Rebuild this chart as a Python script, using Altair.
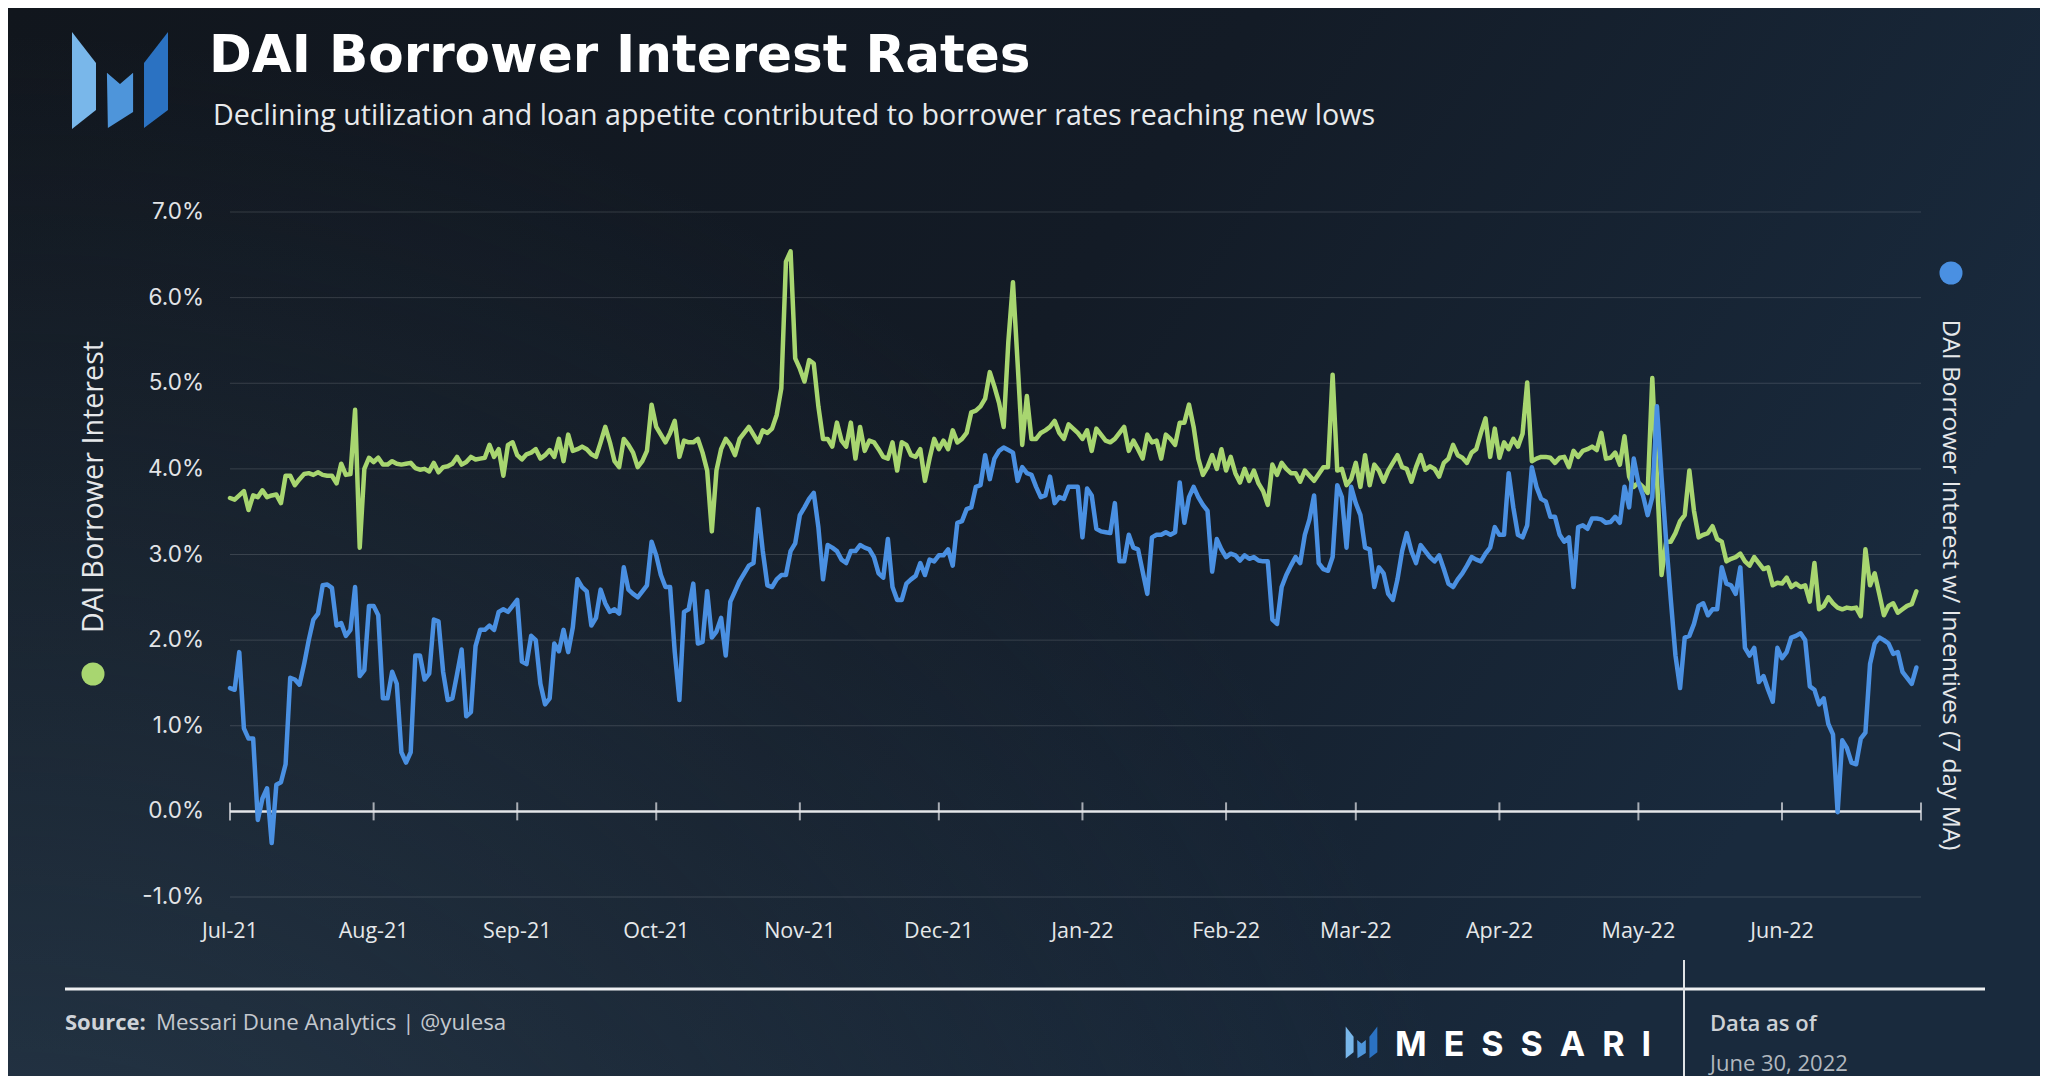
import altair as alt
import pandas as pd

TITLE = "DAI Borrower Interest Rates"
SUBTITLE = "Declining utilization and loan appetite contributed to borrower rates reaching new lows"
SERIES_NAMES = ["DAI Borrower Interest", "DAI Borrower Interest w/ Incentives (7 day MA)"]
SERIES_COLORS = ["#a8d670", "#4a90e2"]
START_DATE = "2021-07-01"
MONTH_TICKS = ["2021-07-01", "2021-08-01", "2021-09-01", "2021-10-01", "2021-11-01",
               "2021-12-01", "2022-01-01", "2022-02-01", "2022-03-01", "2022-04-01",
               "2022-05-01", "2022-06-01", "2022-07-01"]
MONTH_LABELS = ["Jul-21", "Aug-21", "Sep-21", "Oct-21", "Nov-21", "Dec-21", "Jan-22",
                "Feb-22", "Mar-22", "Apr-22", "May-22", "Jun-22", ""]
Y_TICKS = [-1, 0, 1, 2, 3, 4, 5, 6, 7]
Y_LABELS = ["-1.0%", "0.0%", "1.0%", "2.0%", "3.0%", "4.0%", "5.0%", "6.0%", "7.0%"]

# DAI Borrower Interest (%), daily from 2021-07-01
GREEN = [
    3.66, 3.64, 3.69, 3.74, 3.52, 3.69, 3.67, 3.75, 3.67, 3.69,
    3.70, 3.60, 3.92, 3.92, 3.81, 3.88, 3.94, 3.95, 3.93, 3.96,
    3.93, 3.92, 3.92, 3.83, 4.06, 3.93, 3.94, 4.69, 3.08, 4.00,
    4.13, 4.08, 4.13, 4.05, 4.05, 4.09, 4.06, 4.05, 4.06, 4.07,
    4.01, 3.99, 4.00, 3.97, 4.07, 3.96, 4.02, 4.03, 4.06, 4.14,
    4.05, 4.08, 4.14, 4.11, 4.12, 4.13, 4.28, 4.14, 4.23, 3.92,
    4.28, 4.31, 4.16, 4.11, 4.17, 4.19, 4.23, 4.12, 4.16, 4.22,
    4.14, 4.35, 4.09, 4.40, 4.21, 4.23, 4.26, 4.23, 4.17, 4.14,
    4.31, 4.49, 4.31, 4.09, 4.02, 4.35, 4.28, 4.19, 4.02, 4.09,
    4.21, 4.75, 4.49, 4.40, 4.31, 4.42, 4.56, 4.14, 4.33, 4.31,
    4.31, 4.35, 4.19, 3.98, 3.27, 3.98, 4.23, 4.35, 4.28, 4.16,
    4.35, 4.42, 4.49, 4.40, 4.31, 4.45, 4.42, 4.47, 4.63, 4.94,
    6.42, 6.54, 5.29, 5.17, 5.02, 5.27, 5.23, 4.73, 4.35, 4.35,
    4.26, 4.54, 4.33, 4.26, 4.54, 4.12, 4.49, 4.21, 4.33, 4.31,
    4.23, 4.14, 4.12, 4.31, 3.98, 4.31, 4.28, 4.16, 4.14, 4.23,
    3.86, 4.12, 4.35, 4.23, 4.33, 4.23, 4.45, 4.31, 4.35, 4.42,
    4.66, 4.68, 4.73, 4.82, 5.13, 4.96, 4.77, 4.49, 5.48, 6.18,
    5.24, 4.28, 4.85, 4.35, 4.35, 4.42, 4.45, 4.49, 4.56, 4.42,
    4.35, 4.52, 4.47, 4.42, 4.35, 4.45, 4.21, 4.47, 4.40, 4.33,
    4.31, 4.35, 4.42, 4.49, 4.21, 4.33, 4.23, 4.12, 4.40, 4.31,
    4.33, 4.12, 4.40, 4.35, 4.28, 4.54, 4.54, 4.75, 4.49, 4.12,
    3.93, 4.02, 4.16, 4.00, 4.23, 3.98, 4.14, 3.95, 3.84, 4.00,
    3.86, 3.98, 3.83, 3.74, 3.58, 4.05, 3.93, 4.07, 4.00, 3.95,
    3.95, 3.85, 3.98, 3.92, 3.86, 3.94, 4.02, 4.02, 5.10, 3.98,
    4.00, 3.81, 3.88, 4.07, 3.79, 4.16, 3.81, 4.05, 3.98, 3.85,
    3.98, 4.07, 4.16, 4.02, 4.00, 3.85, 4.02, 4.16, 3.99, 4.03,
    4.00, 3.91, 4.07, 4.12, 4.28, 4.16, 4.13, 4.07, 4.19, 4.23,
    4.42, 4.59, 4.14, 4.47, 4.13, 4.31, 4.23, 4.35, 4.26, 4.41,
    5.01, 4.09, 4.12, 4.14, 4.14, 4.13, 4.07, 4.13, 4.14, 4.02,
    4.21, 4.14, 4.21, 4.23, 4.26, 4.22, 4.42, 4.12, 4.13, 4.19,
    4.05, 4.38, 3.91, 3.79, 3.84, 3.79, 3.72, 5.06, 3.90, 2.76,
    3.15, 3.15, 3.25, 3.39, 3.46, 3.98, 3.51, 3.20, 3.23, 3.25,
    3.33, 3.18, 3.15, 2.92, 2.95, 2.97, 3.01, 2.92, 2.87, 2.97,
    2.90, 2.83, 2.85, 2.64, 2.67, 2.66, 2.73, 2.62, 2.66, 2.62,
    2.64, 2.45, 2.90, 2.36, 2.40, 2.50, 2.43, 2.38, 2.36, 2.38,
    2.37, 2.38, 2.28, 3.06, 2.64, 2.78, 2.54, 2.29, 2.40, 2.43,
    2.32, 2.36, 2.40, 2.42, 2.57,
]

# DAI Borrower Interest w/ Incentives, 7 day MA (%), daily from 2021-07-01
BLUE = [
    1.44, 1.42, 1.86, 0.97, 0.85, 0.85, -0.10, 0.15, 0.27, -0.37,
    0.31, 0.34, 0.55, 1.56, 1.54, 1.48, 1.72, 2.00, 2.24, 2.31,
    2.64, 2.65, 2.61, 2.17, 2.20, 2.05, 2.12, 2.62, 1.58, 1.65,
    2.40, 2.40, 2.29, 1.32, 1.32, 1.63, 1.49, 0.69, 0.57, 0.69,
    1.82, 1.82, 1.54, 1.61, 2.24, 2.22, 1.63, 1.30, 1.32, 1.60,
    1.89, 1.11, 1.16, 1.93, 2.12, 2.12, 2.17, 2.12, 2.33, 2.36,
    2.33, 2.40, 2.47, 1.75, 1.72, 2.05, 2.00, 1.49, 1.25, 1.32,
    1.96, 1.87, 2.12, 1.86, 2.15, 2.71, 2.62, 2.57, 2.17, 2.26,
    2.59, 2.43, 2.33, 2.36, 2.31, 2.85, 2.59, 2.54, 2.50, 2.57,
    2.64, 3.15, 2.99, 2.76, 2.62, 2.62, 1.86, 1.30, 2.33, 2.36,
    2.66, 1.96, 1.98, 2.57, 2.03, 2.10, 2.26, 1.82, 2.45, 2.57,
    2.69, 2.78, 2.87, 2.90, 3.53, 3.04, 2.64, 2.62, 2.71, 2.76,
    2.76, 3.04, 3.13, 3.46, 3.55, 3.65, 3.72, 3.32, 2.71, 3.11,
    3.08, 3.04, 2.94, 2.90, 3.04, 3.04, 3.11, 3.08, 3.06, 2.97,
    2.78, 2.73, 3.18, 2.62, 2.47, 2.47, 2.66, 2.71, 2.75, 2.90,
    2.76, 2.94, 2.92, 2.99, 2.99, 3.06, 2.87, 3.37, 3.39, 3.53,
    3.55, 3.79, 3.81, 4.16, 3.88, 4.12, 4.21, 4.25, 4.22, 4.19,
    3.86, 4.02, 3.95, 3.93, 3.79, 3.67, 3.69, 3.91, 3.60, 3.67,
    3.65, 3.79, 3.79, 3.79, 3.20, 3.77, 3.69, 3.30, 3.27, 3.26,
    3.25, 3.60, 2.92, 2.92, 3.23, 3.08, 3.06, 2.80, 2.54, 3.20,
    3.23, 3.23, 3.26, 3.23, 3.26, 3.84, 3.37, 3.67, 3.79, 3.67,
    3.58, 3.51, 2.80, 3.18, 3.06, 2.97, 3.01, 2.99, 2.93, 2.99,
    2.95, 2.97, 2.93, 2.92, 2.92, 2.24, 2.19, 2.62, 2.76, 2.87,
    2.97, 2.90, 3.23, 3.41, 3.69, 2.90, 2.83, 2.81, 2.97, 3.81,
    3.67, 3.08, 3.79, 3.60, 3.46, 3.08, 3.06, 2.62, 2.85, 2.78,
    2.54, 2.47, 2.71, 3.04, 3.25, 3.04, 2.90, 3.11, 3.04, 2.97,
    2.92, 2.99, 2.83, 2.66, 2.62, 2.71, 2.78, 2.87, 2.97, 2.94,
    2.92, 3.01, 3.08, 3.32, 3.23, 3.23, 3.95, 3.55, 3.23, 3.20,
    3.34, 4.02, 3.79, 3.65, 3.62, 3.44, 3.44, 3.23, 3.15, 3.20,
    2.62, 3.32, 3.34, 3.30, 3.42, 3.42, 3.41, 3.37, 3.38, 3.44,
    3.37, 3.79, 3.55, 4.12, 3.84, 3.69, 3.46, 3.67, 4.73, 3.90,
    3.15, 2.47, 1.82, 1.44, 2.03, 2.05, 2.19, 2.40, 2.43, 2.29,
    2.36, 2.36, 2.85, 2.66, 2.64, 2.54, 2.85, 1.91, 1.82, 1.91,
    1.51, 1.58, 1.42, 1.28, 1.91, 1.79, 1.86, 2.03, 2.05, 2.08,
    2.00, 1.46, 1.42, 1.25, 1.32, 1.02, 0.90, -0.01, 0.83, 0.74,
    0.57, 0.55, 0.85, 0.92, 1.72, 1.96, 2.03, 2.00, 1.96, 1.84,
    1.86, 1.63, 1.56, 1.49, 1.68,
]

W, H = 1691, 685
PAD = {"left": 222, "top": 204, "right": 119, "bottom": 179}


def daily_dates(values):
    return list(pd.date_range(START_DATE, periods=len(values), freq="D").strftime("%Y-%m-%d"))


df = pd.DataFrame({
    "date": daily_dates(GREEN) + daily_dates(BLUE),
    "rate": GREEN + BLUE,
    "series": [SERIES_NAMES[0]] * len(GREEN) + [SERIES_NAMES[1]] * len(BLUE),
})
months = pd.DataFrame({"m": MONTH_TICKS, "label": MONTH_LABELS})
yticks = pd.DataFrame({"tick": Y_TICKS, "label": Y_LABELS})


def dt(s):
    y, m, d = (int(p) for p in s.split("-"))
    return alt.DateTime(year=y, month=m, date=d, utc=True)


x_scale = alt.Scale(type="utc", domain=[dt(MONTH_TICKS[0]), dt(MONTH_TICKS[-1])])
y_scale = alt.Scale(domain=[Y_TICKS[0], Y_TICKS[-1]], nice=False, zero=False)
DUMMY = pd.DataFrame({"k": [0]})

# background
bg = alt.Chart(DUMMY).mark_rect(
    fill={"gradient": "linear", "x1": 0, "y1": 0, "x2": 1, "y2": 0.35,
          "stops": [{"offset": 0, "color": "#11161d"},
                    {"offset": 0.55, "color": "#131b26"},
                    {"offset": 1, "color": "#192a3d"}]}
).encode(x=alt.value(-PAD["left"]), x2=alt.value(W + PAD["right"]),
         y=alt.value(-PAD["top"]), y2=alt.value(H + PAD["bottom"]))

bg_glow = alt.Chart(DUMMY).mark_rect(
    fill={"gradient": "radial", "x1": 0.0, "y1": 1.0, "r1": 0, "x2": 0.0, "y2": 1.0, "r2": 0.75,
          "stops": [{"offset": 0, "color": "rgba(48,72,94,0.75)"},
                    {"offset": 1, "color": "rgba(48,72,94,0)"}]}
).encode(x=alt.value(-PAD["left"]), x2=alt.value(W + PAD["right"]),
         y=alt.value(-PAD["top"]), y2=alt.value(H + PAD["bottom"]))

grid = alt.Chart(yticks).mark_rule(
    color="#ffffff", opacity=0.14, strokeWidth=1
).encode(y=alt.Y("tick:Q", scale=y_scale, axis=None))

y_labels = alt.Chart(yticks).mark_text(
    font="Inter", fontSize=22.5, color="#e2e4e7", align="right", baseline="middle"
).encode(y=alt.Y("tick:Q", scale=y_scale, axis=None), x=alt.value(-26), text="label:N")

x_labels = alt.Chart(months).mark_text(
    font="Open Sans", fontSize=21.5, color="#e6e8ea", align="center", baseline="middle"
).encode(x=alt.X("m:T", scale=x_scale, axis=None), y=alt.value(H + 35), text="label:N")

zero = alt.Chart(DUMMY).mark_rule(color="#e4e6e9", strokeWidth=2.5).encode(
    y=alt.Y("v:Q", scale=y_scale, axis=None)
).transform_calculate(v="0")

ticks = alt.Chart(months).mark_tick(
    orient="vertical", size=18, thickness=2, color="#e4e6e9"
).encode(x=alt.X("m:T", scale=x_scale, axis=None),
         y=alt.Y("v:Q", scale=y_scale, axis=None)).transform_calculate(v="0")

lines = alt.Chart(df).mark_line(strokeWidth=4.5, strokeJoin="round", strokeCap="round").encode(
    x=alt.X("date:T", scale=x_scale, axis=None),
    y=alt.Y("rate:Q", scale=y_scale, axis=None),
    color=alt.Color("series:N", scale=alt.Scale(domain=SERIES_NAMES, range=SERIES_COLORS), legend=None),
)


def text(t, x, y, size, color, font="Open Sans", weight="normal", angle=0, align="left", baseline="alphabetic"):
    return alt.Chart(DUMMY).mark_text(
        text=t, font=font, fontSize=size, fontWeight=weight, color=color,
        angle=angle, align=align, baseline=baseline
    ).encode(x=alt.value(x), y=alt.value(y))


def dot(x, y, color, size=530):
    return alt.Chart(DUMMY).mark_point(shape="circle", filled=True, size=size, color=color, opacity=1).encode(
        x=alt.value(x), y=alt.value(y))


LOGO_PIECES = [
    ("M -0.99 -1 L -0.495 -0.36 L -0.495 0.61 L -0.99 1 Z", "#79b7ea"),
    ("M -0.27 -0.16 L 0 0.07 L 0.27 -0.16 L 0.27 0.65 L -0.25 0.98 Z", "#4e95da"),
    ("M 0.99 -1 L 0.495 -0.36 L 0.495 0.98 L 0.99 0.61 Z", "#2b72c2"),
]


def logo(cx, cy, size):
    return [alt.Chart(DUMMY).mark_point(shape=p, filled=True, size=size, color=c, opacity=1, strokeWidth=0).encode(
        x=alt.value(cx), y=alt.value(cy)) for p, c in LOGO_PIECES]


annotations = [
    text(TITLE, -21, -140, 51.6, "#ffffff", font="DejaVu Sans", weight="bold"),
    text(SUBTITLE, -17, -87, 28.6, "#e8eaec"),
    text(SERIES_NAMES[0], -136, 275, 28.7, "#e6e8ea", angle=270, align="center", baseline="middle"),
    dot(-137, 462, SERIES_COLORS[0]),
    text(SERIES_NAMES[1], 1720, 373, 24.5, "#e6e8ea", angle=90, align="center", baseline="middle"),
    dot(1721, 61, SERIES_COLORS[1]),
    alt.Chart(DUMMY).mark_rule(color="#eef0f2", strokeWidth=3).encode(
        x=alt.value(-165), x2=alt.value(1755), y=alt.value(777)),
    alt.Chart(DUMMY).mark_rule(color="#dfe2e5", strokeWidth=2).encode(
        x=alt.value(1454), y=alt.value(748), y2=alt.value(870)),
    text("Source:", -165, 818, 22, "#cfd3d8", weight="bold"),
    text("Messari Dune Analytics | @yulesa", -74, 818, 22.3, "#c3c8ce"),
    text("M\u2002E\u2002S\u2002S\u2002A\u2002R\u2002I", 1165, 844, 34, "#ffffff", font="Inter", weight="bold"),
    text("Data as of", 1480, 819, 22, "#cdd1d6", weight=600),
    text("June 30, 2022", 1480, 859, 22, "#b2b8bf"),
]

chart = alt.layer(
    bg, bg_glow, grid, zero, ticks, lines, y_labels, x_labels,
    *logo(-110, -131.5, 9409),
    *logo(1131.5, 830.5, 1024),
    *annotations,
).properties(
    width=W, height=H,
    autosize=alt.AutoSizeParams(type="none"),
    padding=PAD,
).configure_view(stroke=None).configure(background="#131b25")

chart.save("out.html", embed_options={"renderer": "svg", "actions": False})
